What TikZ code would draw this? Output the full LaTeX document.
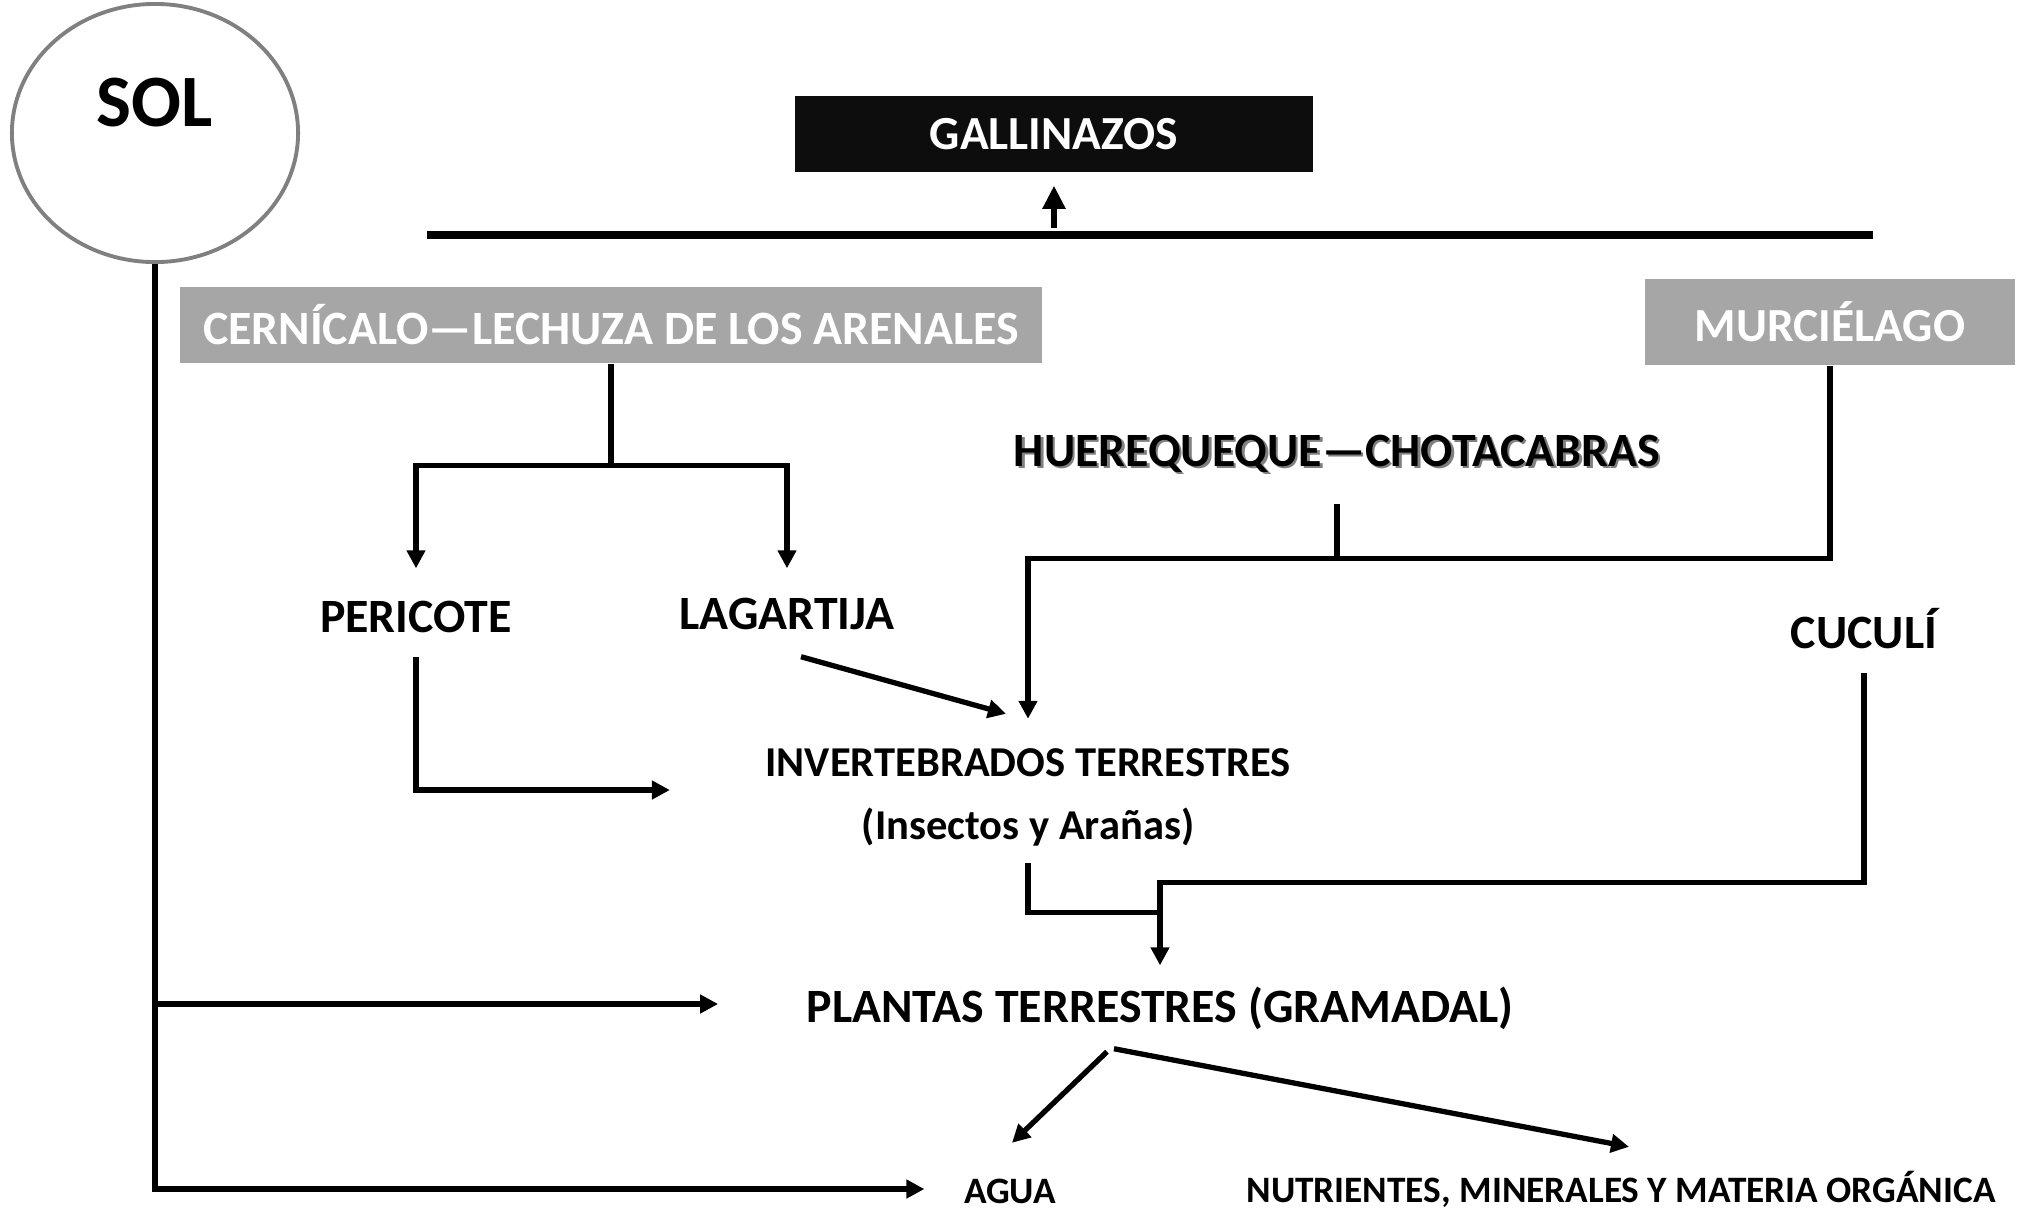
\documentclass[tikz,border=0pt]{standalone}
\usepackage{fontspec}
\setmainfont{Carlito}
\usetikzlibrary{positioning, calc, arrows.meta, shapes.geometric}
\definecolor{boxgray}{HTML}{A6A6A6}
\definecolor{boxblack}{HTML}{0D0D0D}
\definecolor{solgray}{HTML}{808080}
\newcommand{\shadowtext}[1]{\makebox[0pt][l]{\hspace{0.7pt}\raisebox{-0.7pt}{\color{gray}#1}}#1}

\begin{document}
\begin{tikzpicture}[
  x=0.01cm, y=-0.01cm,
  species/.style={font=\fontsize{13.6}{16}\selectfont\bfseries, inner sep=0pt, text height=3mm, text depth=0pt},
  groupname/.style={species, font=\fontsize{12.1}{14}\selectfont\bfseries, text height=2.7mm},
  smalltext/.style={species, font=\fontsize{10.6}{12}\selectfont\bfseries, text height=2.3mm},
  graybox/.style={fill=boxgray, text=white, font=\fontsize{13.6}{16}\selectfont\bfseries, inner sep=0pt},
  darkbox/.style={fill=boxblack, text=white, font=\fontsize{13.5}{16}\selectfont\bfseries, inner sep=0pt, minimum width=5.18cm, minimum height=0.76cm},
  sunnode/.style={draw=solgray, line width=1.1pt, ellipse, minimum width=2.86cm, minimum height=2.58cm, font=\fontsize{21}{24}\selectfont\bfseries, text height=4.7mm, text depth=6mm},
  link/.style={line width=1.5pt},
  bar/.style={line width=2.2pt},
  arrow/.style={link, -{Triangle[length=1.8mm, width=1.8mm]}},
]
  \useasboundingbox (0,0) rectangle (2027,1211);

  % Sun and top of the chain
  \node (sol) [sunnode] at (155,133) {SOL};
  \node (gall) [darkbox] at (1054,134) {GALLINAZOS};
  \coordinate (barL) at (427,235);
  \coordinate (barR) at (1873,235);

  % Predators
  \node (cern) [graybox, minimum width=8.62cm, minimum height=0.76cm] at (611,325) {CERNÍCALO---LECHUZA DE LOS ARENALES};
  \node (murc) [graybox, font=\fontsize{13.5}{16}\selectfont\bfseries, minimum width=3.69cm, minimum height=0.86cm] at (1830,322) {MURCIÉLAGO};
  \node (huere) [species] at (1337,451) {\shadowtext{HUEREQUEQUE---CHOTACABRAS}};

  % Consumers
  \node (pericote) [species] at (416,617) {PERICOTE};
  \node (lagartija) [species] at (787,614) {LAGARTIJA};
  \node (cuculi) [species] at (1864,633) {CUCULÍ};
  \node (invert) [groupname] at (1028,763) {INVERTEBRADOS TERRESTRES};
  \node (insectos) [groupname, below=3.5mm of invert] {(Insectos y Arañas)};

  % Producers and soil
  \node (plantas) [species] at (1160,1007) {PLANTAS TERRESTRES (GRAMADAL)};
  \node (agua) [smalltext] at (1010,1192) {AGUA};
  \node (nutri) [smalltext] at (1621,1191) {NUTRIENTES, MINERALES Y MATERIA ORGÁNICA};

  % Energy from the sun
  \draw [arrow] (sol.south) |- ($(agua.west)+(-39,-3)$);
  \draw [arrow] (sol.south |- plantas.west) ++(0,-3) -- ($(plantas.west)+(-88,-3)$);

  % Scavengers
  \draw [bar] (barL) -- (barR);
  \draw [link, -{Triangle[length=2.3mm, width=2.2mm]}, shorten >=1.3mm] ([yshift=0.7mm]gall.south |- barL) -- (gall.south);

  % Cernicalo and lechuza
  \draw [arrow, shorten >=3.3mm] (cern.south) -- ++(0,102) -| (pericote.north);
  \draw [arrow, shorten >=3mm] (cern.south) ++(0,102) -| (lagartija.north);

  % Murcielago and huerequeque
  \draw [arrow, shorten >=3mm] (murc.south) -- ++(0,193) coordinate (mjoin) -| (invert.north);
  \draw [link] ($(huere.south)+(0,37)$) -- (huere.south |- mjoin);

  % Lagartija and pericote
  \draw [arrow] ($(lagartija.south)+(14,27)$) -- ($(invert.north)+(-22,-35)$);
  \draw [arrow] ($(pericote.south)+(0,24)$) |- ($(invert.west)+(-95,27)$);

  % Down to the plants
  \draw [link] ($(insectos.south)+(0,22)$) |- ($(plantas.north)+(0,-79)$);
  \draw [arrow] ($(cuculi.south)+(0,24)$) |- ($(plantas.north)+(0,-109)$) -- ($(plantas.north)+(0,-26)$);

  % Plants to soil
  \draw [arrow] ($(plantas.south)+(-53,29)$) -- ($(agua.north)+(2,-37)$);
  \draw [arrow] ($(plantas.south)+(-46,26)$) -- ($(nutri.north)+(8,-32)$);

\end{tikzpicture}
\end{document}
